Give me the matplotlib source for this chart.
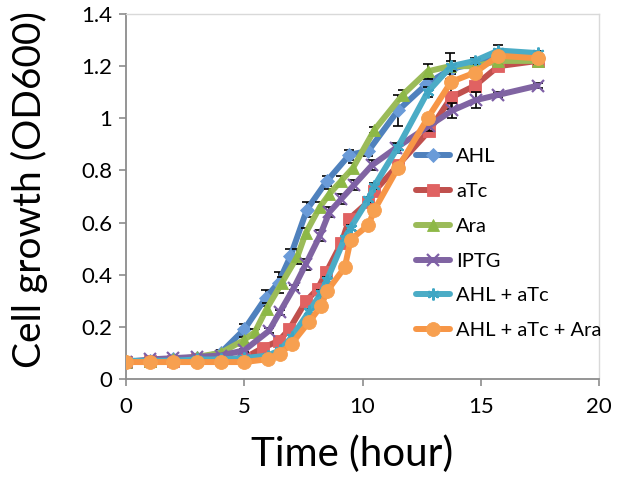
import matplotlib
matplotlib.use("Agg")
import matplotlib.pyplot as plt
from matplotlib.ticker import FuncFormatter, MultipleLocator

plt.rcParams['font.family'] = ['Lato', 'DejaVu Sans']

# data (time in hours, OD600)
t_ahl = [0, 1, 2, 3, 4, 5, 5.9, 6.45, 6.95, 7.65, 8.5, 9.45, 10.25, 11.5, 12.7, 13.75, 14.75, 15.75, 17.4]
ahl = [0.065, 0.07, 0.075, 0.08, 0.1, 0.19, 0.31, 0.37, 0.47, 0.65, 0.76, 0.86, 0.875, 1.03, 1.13, 1.19, 1.21, 1.24, 1.23]
ahl_err = [0, 0, 0, 0.005, 0.01, 0.02, 0.03, 0.04, 0.03, 0.03, 0.02, 0.02, 0.02, 0.06, 0.02, 0.02, 0.01, 0.02, 0.01]

t_atc = [0, 1, 2, 3, 4, 5, 5.8, 6.45, 6.9, 7.62, 8.1, 8.47, 9.1, 9.45, 10.25, 10.5, 11.5, 12.8, 13.75, 14.75, 15.75, 17.4]
atc = [0.065, 0.07, 0.07, 0.075, 0.075, 0.08, 0.12, 0.146, 0.19, 0.30, 0.345, 0.41, 0.52, 0.615, 0.68, 0.72, 0.82, 0.95, 1.08, 1.125, 1.2, 1.22]
atc_err = [0, 0, 0, 0, 0, 0.005, 0.01, 0.01, 0.01, 0.01, 0.01, 0.01, 0.01, 0.01, 0.01, 0.01, 0.01, 0.01, 0.045, 0.01, 0.01, 0.01]

t_ara = [0, 1, 2, 3, 4, 5, 5.45, 5.95, 6.6, 7.25, 7.6, 8.2, 8.6, 9.1, 9.6, 10.5, 11.7, 12.75, 13.7, 14.75, 15.75, 17.4]
ara = [0.065, 0.07, 0.075, 0.085, 0.1, 0.15, 0.18, 0.27, 0.37, 0.47, 0.56, 0.66, 0.71, 0.76, 0.81, 0.955, 1.09, 1.18, 1.2, 1.2, 1.22, 1.22]
ara_err = [0, 0, 0, 0.005, 0.005, 0.01, 0.01, 0.02, 0.02, 0.03, 0.02, 0.02, 0.02, 0.02, 0.02, 0.01, 0.02, 0.03, 0.05, 0.01, 0.01, 0.01]

t_iptg = [0, 1, 2, 3, 4, 5, 6.05, 6.5, 7.1, 7.6, 8.2, 8.6, 9.1, 9.65, 10.4, 11.4, 12.8, 13.8, 14.8, 15.75, 17.4]
iptg = [0.065, 0.075, 0.08, 0.085, 0.09, 0.11, 0.185, 0.256, 0.35, 0.44, 0.55, 0.64, 0.69, 0.745, 0.82, 0.885, 0.97, 1.03, 1.07, 1.09, 1.125]
iptg_err = [0, 0, 0, 0, 0, 0.005, 0.01, 0.01, 0.01, 0.02, 0.02, 0.02, 0.02, 0.02, 0.02, 0.02, 0.02, 0.03, 0.03, 0.01, 0.01]

t_mix = [0, 1, 2, 3, 4, 5, 6, 6.5, 7, 7.75, 8.25, 8.5, 9.25, 9.5, 10.25, 10.5, 11.5, 12.75, 13.75, 14.75, 15.75, 17.4]
ahl_atc = [0.07, 0.07, 0.07, 0.075, 0.075, 0.08, 0.09, 0.11, 0.16, 0.26, 0.33, 0.38, 0.54, 0.58, 0.69, 0.74, 0.89, 1.1, 1.2, 1.22, 1.26, 1.25]
ahl_atc_err = [0, 0, 0, 0, 0, 0, 0.005, 0.005, 0.01, 0.01, 0.01, 0.01, 0.01, 0.01, 0.01, 0.01, 0.01, 0.02, 0.02, 0.01, 0.02, 0.01]
ahl_atc_ara = [0.065, 0.065, 0.065, 0.065, 0.065, 0.065, 0.076, 0.097, 0.135, 0.22, 0.28, 0.337, 0.428, 0.535, 0.59, 0.648, 0.81, 1.0, 1.14, 1.175, 1.24, 1.23]
ahl_atc_ara_err = [0, 0, 0, 0, 0, 0, 0.005, 0.005, 0.005, 0.01, 0.01, 0.01, 0.01, 0.01, 0.01, 0.01, 0.01, 0.01, 0.01, 0.01, 0.01, 0.01]

series = [
    ("AHL", t_ahl, ahl, ahl_err, "#4F81BD", "#6A9BD8", "D", 7.5),
    ("aTc", t_atc, atc, atc_err, "#C0504D", "#E06262", "s", 8),
    ("Ara", t_ara, ara, ara_err, "#9BBB59", "#8DB846", "^", 9),
    ("IPTG", t_iptg, iptg, iptg_err, "#8064A2", "#7E5FA6", "x", 8),
    ("AHL + aTc", t_mix, ahl_atc, ahl_atc_err, "#4BACC6", "#3FA6C4", (6, 2, 0), 8.5),
    ("AHL + aTc + Ara", t_mix, ahl_atc_ara, ahl_atc_ara_err, "#F79646", "#F7A050", "o", 10),
]

fig = plt.figure(figsize=(6.17, 4.79), dpi=100)
ax = fig.add_axes([126 / 617, 100 / 479, 473 / 617, 365 / 479])

for i, (name, t, y, e, col, mcol, mk, ms) in enumerate(series):
    ax.errorbar(t, y, yerr=e, fmt='none', ecolor='black', elinewidth=1.2,
                capsize=3.5, capthick=1.2, zorder=2 + 2 * i)
    ax.plot(t, y, color=col, lw=4.3, marker=mk, ms=ms, mfc=mcol,
            mec=mcol, mew=1.6 if mk in ("x", (6, 2, 0)) else 0.6,
            solid_joinstyle='round', solid_capstyle='round',
            label=name, zorder=3 + 2 * i)

ax.set_xlim(0, 20)
ax.set_ylim(0, 1.4)
ax.xaxis.set_major_locator(MultipleLocator(5))
ax.yaxis.set_major_locator(MultipleLocator(0.2))
ax.yaxis.set_major_formatter(FuncFormatter(lambda v, p: "%g" % round(v, 2)))

for s in ["left", "bottom"]:
    ax.spines[s].set_color("#8C8C8C")
    ax.spines[s].set_linewidth(1.3)
for s in ["top", "right"]:
    ax.spines[s].set_color("#D9D9D9")
    ax.spines[s].set_linewidth(1.0)
ax.tick_params(axis='both', direction='out', length=5, width=1.2,
               color="#8C8C8C", labelsize=16, labelcolor='black', pad=5)
ax.tick_params(axis='x', pad=8)

fig.text(29 / 617, 1 - 190 / 479, "Cell growth (OD600)", rotation=90,
         ha='center', va='center', fontsize=28)
fig.text(352 / 617, 1 - 454 / 479, "Time (hour)", ha='center', va='center',
         fontsize=29)

fig.legend(loc='upper left', bbox_to_anchor=(416 / 617, 1 - 148 / 479),
           frameon=False, fontsize=14.5, handlelength=1.7, handletextpad=0.3,
           labelspacing=0.88, borderpad=0, borderaxespad=0)

fig.savefig("out.png", dpi=100)
